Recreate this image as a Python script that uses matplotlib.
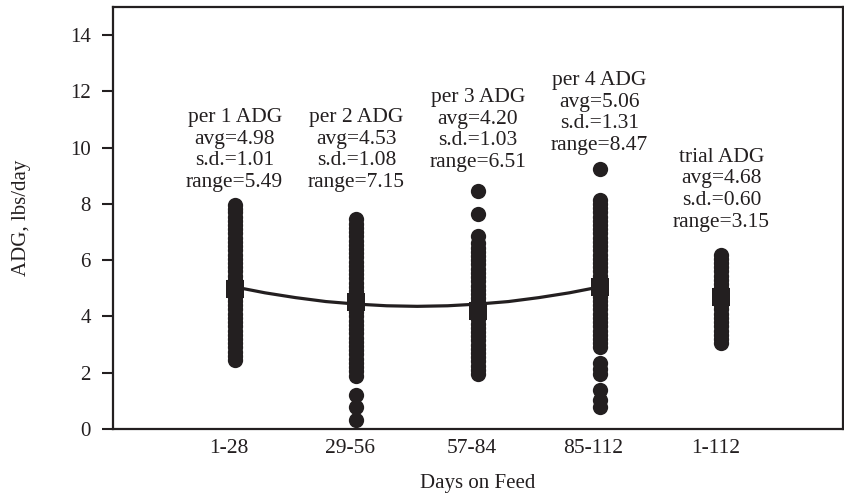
import matplotlib
matplotlib.use("Agg")
import matplotlib.pyplot as plt

ink = "#231f20"

# column positions and labels
col_x = [1, 2, 3, 4, 5]
tick_pos = [0.95, 1.95, 2.95, 3.95, 4.95]
tick_labels = ["1-28", "29-56", "57-84", "85-112", "1-112"]

# individual animal ADG values
per1 = [2.46, 2.6, 2.75, 2.9, 3.05, 3.2, 3.35, 3.5, 3.65, 3.8, 3.95, 4.1,
        4.25, 4.4, 4.55, 4.7, 4.85, 5.0, 5.15, 5.3, 5.45, 5.6, 5.75, 5.9,
        6.05, 6.2, 6.35, 6.5, 6.65, 6.8, 6.95, 7.1, 7.25, 7.4, 7.55, 7.7,
        7.82, 7.95]
per2 = [0.32, 0.79, 1.21, 1.9, 2.05, 2.2, 2.35, 2.5, 2.65, 2.8, 2.95, 3.1,
        3.25, 3.4, 3.55, 3.7, 3.85, 4.0, 4.15, 4.3, 4.45, 4.6, 4.75, 4.9,
        5.05, 5.2, 5.35, 5.5, 5.65, 5.8, 5.95, 6.1, 6.25, 6.4, 6.55, 6.7,
        6.85, 7.0, 7.15, 7.3, 7.47]
per3 = [1.94, 2.1, 2.25, 2.4, 2.55, 2.7, 2.85, 3.0, 3.15, 3.3, 3.45, 3.6,
        3.75, 3.9, 4.05, 4.2, 4.35, 4.5, 4.65, 4.8, 4.95, 5.1, 5.25, 5.4,
        5.55, 5.7, 5.85, 6.0, 6.15, 6.3, 6.45, 6.6, 6.86, 7.64, 8.45]
per4 = [0.78, 1.04, 1.4, 1.95, 2.15, 2.36, 2.93, 3.05, 3.2, 3.35, 3.5, 3.65,
        3.8, 3.95, 4.1, 4.25, 4.4, 4.55, 4.7, 4.85, 5.0, 5.15, 5.3, 5.45,
        5.6, 5.75, 5.9, 6.05, 6.2, 6.35, 6.5, 6.65, 6.8, 6.95, 7.1, 7.25,
        7.4, 7.55, 7.7, 7.85, 8.0, 8.15, 9.25]
trial = [3.05, 3.2, 3.35, 3.5, 3.65, 3.8, 3.95, 4.1, 4.25, 4.4, 4.55, 4.7,
         4.85, 5.0, 5.15, 5.3, 5.45, 5.6, 5.75, 5.9, 6.05, 6.2]
groups = [per1, per2, per3, per4, trial]

avg = [4.98, 4.53, 4.20, 5.06, 4.68]
sd = [1.01, 1.08, 1.03, 1.31, 0.60]
rng = [5.49, 7.15, 6.51, 8.47, 3.15]
names = ["per 1 ADG", "per 2 ADG", "per 3 ADG", "per 4 ADG", "trial ADG"]
label_y = [9.92, 9.92, 10.63, 11.23, 8.5]

# fitted trend across the four periods
curve_x = [1, 1.25, 1.5, 1.75, 2, 2.25, 2.5, 2.75, 3, 3.25, 3.5, 3.75, 4]
curve_y = [5.05, 4.84, 4.67, 4.53, 4.44, 4.38, 4.36, 4.38, 4.44, 4.53,
           4.67, 4.84, 5.05]

plt.rcParams['font.family'] = ['Liberation Serif', 'DejaVu Serif']

fig = plt.figure(figsize=(8.45, 4.98), dpi=100)
ax = fig.add_axes([113 / 845, 1 - 429 / 498, 730 / 845, 422 / 498])

for x, vals in zip(col_x, groups):
    ax.plot([x] * len(vals), vals, 'o', color=ink, markersize=11,
            markeredgewidth=0, zorder=3)

ax.plot(curve_x, curve_y, '-', color=ink, lw=2.3, zorder=2)
ax.plot(col_x, avg, 's', color=ink, markersize=13, markeredgewidth=0, zorder=4)

for x, y, n, a, s, r in zip(col_x, label_y, names, avg, sd, rng):
    txt = "%s\navg=%.2f\ns.d.=%.2f\nrange=%.2f" % (n, a, s, r)
    ax.text(x, y, txt, ha='center', va='center', multialignment='center',
            fontsize=15.5, color=ink, linespacing=1.2)

ax.set_xlim(0, 6)
ax.set_ylim(0, 15)
ax.set_yticks([0, 2, 4, 6, 8, 10, 12, 14])
ax.set_xticks(tick_pos)
ax.set_xticklabels(tick_labels)
ax.tick_params(axis='x', length=0, pad=7, labelsize=15.5, colors=ink)
ax.tick_params(axis='y', length=8, width=1.5, pad=8, labelsize=15, colors=ink)
for sp in ax.spines.values():
    sp.set_linewidth(1.6)
    sp.set_color(ink)

ax.set_xlabel("Days on Feed", fontsize=15, color=ink, labelpad=12)
ax.set_ylabel("ADG, lbs/day", fontsize=15, color=ink, labelpad=28)

fig.savefig("out.png", dpi=100)
